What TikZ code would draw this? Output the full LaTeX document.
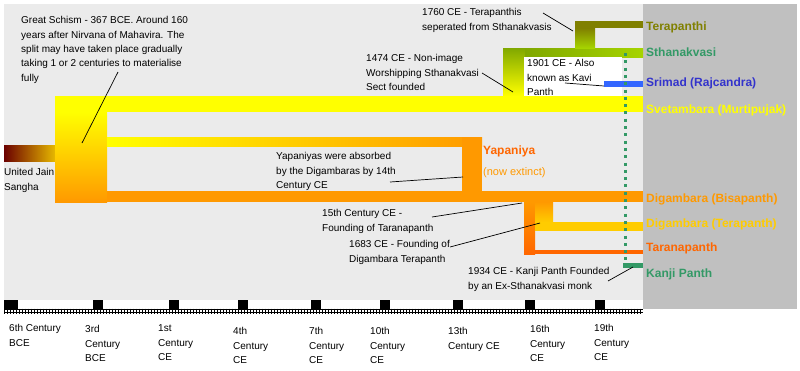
\documentclass[tikz,border=0pt]{standalone}
\usepackage{fontspec}
\setmainfont{Liberation Sans}
\definecolor{cBg}{HTML}{EBEBEB}
\definecolor{cPanel}{HTML}{C0C0C0}
\definecolor{cYel}{HTML}{FFFF00}
\definecolor{cOrg}{HTML}{FF9900}
\definecolor{cRed}{HTML}{FF6600}
\definecolor{cGold}{HTML}{FFCC00}
\definecolor{cOlv}{HTML}{808000}
\definecolor{cOlvG}{HTML}{80A800}
\definecolor{cLime}{HTML}{A6D400}
\definecolor{cTeal}{HTML}{339966}
\definecolor{cBlueBar}{HTML}{3366FF}
\definecolor{cBlueTxt}{HTML}{3333CC}
\definecolor{cMaroon}{HTML}{6B0000}
\definecolor{cSangR}{HTML}{E6B800}
\begin{document}
\begin{tikzpicture}[x=1pt,y=-1pt,
  ann/.style={anchor=north west, inner sep=0pt, align=left, font=\fontsize{10}{14.3}\selectfont},
  tl/.style={anchor=north west, inner sep=0pt, align=left, font=\fontsize{10}{14.5}\selectfont},
  lab/.style={anchor=base west, inner sep=0pt, font=\fontsize{12}{14}\selectfont\bfseries},
  leader/.style={draw=black, line width=0.7pt},
  tick/.style={fill=black}]
\useasboundingbox (0,0) rectangle (800,370);
\fill[white] (0,0) rectangle (800,370);
\fill[cBg] (4,4) rectangle (643,300);
\fill[cPanel] (643,4) rectangle (797,309);
% United Jain Sangha
\shade[left color=cMaroon, right color=cSangR] (4,145) rectangle (55,161);
% Svetambara bar and split block
\fill[cYel] (55,96) rectangle (643,112);
\shade[top color=cYel, bottom color=cOrg] (55,112) rectangle (107,202);
% Yapaniya
\shade[left color=cYel, right color=cOrg] (107,137) rectangle (482,146);
\fill[cOrg] (462,137) rectangle (482,192);
% Digambara
\fill[cOrg] (107,191) rectangle (643,202);
\shade[top color=cOrg, bottom color=cRed] (524,202) rectangle (535,254);
\shade[top color=cOrg, bottom color=cGold] (535,202) rectangle (553,222);
\fill[cGold] (535,222) rectangle (643,231);
\fill[cRed] (535,250) rectangle (643,254);
% Sthanakvasi
\shade[top color=cOlvG, bottom color=cYel] (503,48) rectangle (525,96);
\shade[left color=cOlvG, right color=cLime] (525,48) rectangle (643,57);
% Terapanthi
\fill[cOlv] (575,21) rectangle (643,28);
\shade[top color=cOlv, bottom color=cLime] (575,28) rectangle (595,48);
% 1901 box
\node[ann, fill=white, minimum width=98pt, minimum height=39pt, inner sep=0pt] (kavi) at (524,57) {};
\node[ann] (kavitxt) at (527,56.6) {\strut 1901 CE - Also\\known as Kavi\\Panth};
% Srimad
\fill[cBlueBar] (604,81) rectangle (643,87);
% dotted Kanji line
\coordinate (dtop) at (625,53);
\coordinate (dbot) at (625,263);
\draw[cTeal, line width=3pt, dash pattern=on 3pt off 4.3pt] (dtop) -- (dbot);
\fill[cTeal] (623,263) rectangle (643,268);

% right labels
\node[lab, text=cOlv] (terapanthi) at (646,30.5) {Terapanthi};
\node[lab, text=cTeal] (sthanak) at (646,56.5) {Sthanakvasi};
\node[lab, text=cBlueTxt] (srimad) at (646,86) {Srimad (Rajcandra)};
\node[lab, text=cYel] (svet) at (646,113.5) {Svetambara (Murtipujak)};
\node[lab, text=cOrg] (bisa) at (646,202.5) {Digambara (Bisapanth)};
\node[lab, text=cGold] (digtera) at (646,227.5) {Digambara (Terapanth)};
\node[lab, text=cRed] (tarana) at (646,251) {Taranapanth};
\node[lab, text=cTeal] (kanji) at (646,277) {Kanji Panth};
\node[lab, text=cRed] (yapaniya) at (483,154.5) {Yapaniya};
\node[anchor=base west, inner sep=0pt, font=\fontsize{11}{13}\selectfont, text=cOrg] (extinct) at (483,175.5) {(now extinct)};

% annotations
\node[ann] (schism) at (21,13.6) {\strut Great Schism - 367 BCE. Around 160\\years after Nirvana of Mahavira. The\\split may have taken place gradually\\taking 1 or 2 centuries to materialise\\fully};
\node[ann] (sangha) at (4,165.6) {\strut United Jain\\Sangha};
\node[ann] (n1474) at (366,51.6) {\strut 1474 CE - Non-image\\Worshipping Sthanakvasi\\Sect founded};
\node[ann] (n1760) at (422,5.6) {\strut 1760 CE - Terapanthis\\seperated from Sthanakvasis};
\node[ann] (absorb) at (276,149.6) {\strut Yapaniyas were absorbed\\by the Digambaras by 14th\\Century CE};
\node[ann] (n15) at (322,206.6) {\strut 15th Century CE -\\Founding of Taranapanth};
\node[ann] (n1683) at (349,237.6) {\strut 1683 CE - Founding of\\Digambara Terapanth};
\node[ann] (n1934) at (468,264.6) {\strut 1934 CE - Kanji Panth Founded\\by an Ex-Sthanakvasi monk};

% leaders
\coordinate (s1) at (118,72);   \coordinate (s2) at (82,143);
\coordinate (a1) at (482,73);   \coordinate (a2) at (513,92);
\coordinate (b1) at (543,13);   \coordinate (b2) at (573,31);
\coordinate (c1) at (565,83);   \coordinate (c2) at (604,86);
\coordinate (d1) at (390,182);  \coordinate (d2) at (463,177);
\coordinate (e1) at (432,217);  \coordinate (e2) at (522,203);
\coordinate (f1) at (450,247);  \coordinate (f2) at (540,223);
\coordinate (g1) at (608,281);  \coordinate (g2) at (633,267);
\draw[leader] (s1) -- (s2);
\draw[leader] (a1) -- (a2);
\draw[leader] (b1) -- (b2);
\draw[leader] (c1) -- (c2);
\draw[leader] (d1) -- (d2);
\draw[leader] (e1) -- (e2);
\draw[leader] (f1) -- (f2);
\draw[leader] (g1) -- (g2);

% timeline ruler
\draw[black, line width=0.9pt] (4,309.8) -- (643,309.8);
\draw[black, line width=0.9pt] (4,312.6) -- (643,312.6);
\foreach \i in {0,...,212} {\draw[black, line width=0.7pt] ({4.5+3*\i},308.5) -- ({4.5+3*\i},314);}
\fill[tick] (4,300) rectangle (18,309);
\foreach \xa in {93,169,238,311,380,453,525,595} {\fill[tick] (\xa,300) rectangle ({\xa+10},309);}

% timeline labels
\node[tl] (t1) at (9,321.5) {\strut 6th Century\\BCE};
\node[tl] (t2) at (85,322.5) {\strut 3rd\\Century\\BCE};
\node[tl] (t3) at (158,321.5) {\strut 1st\\Century\\CE};
\node[tl] (t4) at (233,324.5) {\strut 4th\\Century\\CE};
\node[tl] (t5) at (309,324.5) {\strut 7th\\Century\\CE};
\node[tl] (t6) at (370,324.5) {\strut 10th\\Century\\CE};
\node[tl] (t7) at (448,324.5) {\strut 13th\\Century CE};
\node[tl] (t8) at (530,322.5) {\strut 16th\\Century\\CE};
\node[tl] (t9) at (594,321.5) {\strut 19th\\Century\\CE};
\end{tikzpicture}
\end{document}
